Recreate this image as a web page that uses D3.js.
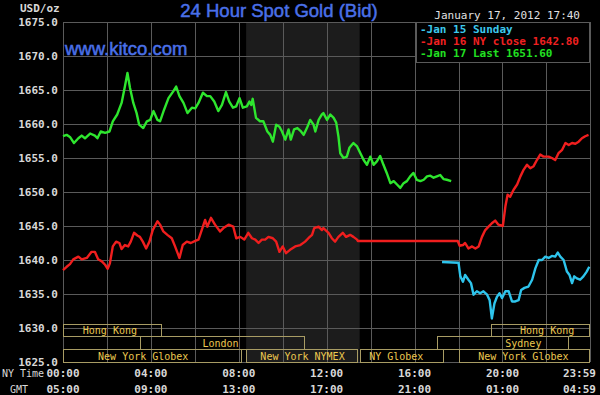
<!DOCTYPE html>
<html><head><meta charset="utf-8">
<script src="https://cdn.jsdelivr.net/npm/d3@7"></script>
<style>html,body{margin:0;padding:0;background:#000;}svg{display:block;}</style>
</head><body>
<svg id="c" width="600" height="395"></svg>
<script>
// ---- data (minutes after midnight NY time, price USD/oz) ----
const greenT = [0,10,19,30,42,51,60,74,87,94,103,115,127,136,148,160,169,176,183,192,201,208,219,229,238,247,258,265,276,288,301,309,318,329,340,352,361,370,382,393,402,413,424,434,445,454,464,473,482,491,502,509,514,518,527,538,547,558,566,573,582,591,598,607,616,622,631,640,650,657,666,675,684,689,698,707,711,721,730,739,746,752,757,766,775,782,793,803,812,821,830,839,848,857,866,875,884,894,903,912,921,930,939,948,957,966,976,985,994,1003,1012,1021,1030,1039,1048,1060];
const greenV = [1658.2,1658.4,1658.1,1657.2,1657.9,1658.3,1657.9,1658.6,1658.3,1657.9,1658.9,1658.7,1658.9,1660.4,1661.4,1663.1,1665.5,1667.5,1665.3,1663.1,1661.6,1659.9,1659.4,1660.4,1660.6,1661.9,1660.6,1660.4,1662.1,1663.8,1664.8,1665.5,1664.1,1663.1,1661.6,1662.4,1662.3,1663.1,1664.6,1664.1,1664.1,1663.3,1661.9,1662.8,1664.7,1663.3,1662.4,1662.6,1663.8,1662.4,1662.6,1663.3,1662.8,1663.7,1660.9,1660.4,1660.4,1658.9,1658.4,1657.4,1659.9,1659.6,1658.9,1657.7,1659.2,1657.7,1659.2,1659.4,1658.9,1658.4,1659.4,1660.6,1659.9,1658.9,1660.6,1661.4,1661.6,1660.6,1661.4,1660.9,1660.2,1658.2,1655.7,1655.0,1655.2,1656.5,1657.2,1656.7,1655.7,1654.7,1654.0,1655.2,1654.0,1654.5,1655.3,1654.0,1652.8,1651.3,1651.6,1651.1,1650.6,1651.3,1651.6,1652.3,1652.8,1651.8,1651.6,1651.8,1652.3,1652.4,1652.1,1652.3,1652.5,1651.9,1651.8,1651.6];

const redT = [0,10,19,28,42,51,65,78,87,96,106,115,122,128,136,145,154,160,169,178,185,194,203,210,218,227,236,245,258,265,274,285,297,306,318,327,338,349,361,370,382,388,394,404,415,429,438,452,465,473,484,495,506,516,525,534,543,552,561,573,582,591,600,609,620,634,648,661,670,680,686,698,707,711,725,734,743,752,764,773,784,793,803,805,1078,1083,1092,1098,1107,1117,1126,1135,1144,1153,1162,1171,1180,1189,1201,1208,1214,1221,1230,1240,1249,1258,1267,1276,1285,1294,1303,1312,1326,1335,1344,1353,1363,1372,1381,1390,1399,1408,1417,1426,1435];
const redV = [1638.5,1639.0,1639.4,1640.1,1640.5,1640.1,1640.3,1641.2,1641.2,1640.1,1639.8,1639.3,1638.7,1639.5,1642.0,1642.7,1642.5,1641.6,1642.2,1642.0,1642.7,1644.0,1643.6,1643.4,1642.7,1641.7,1642.7,1644.4,1645.7,1645.2,1644.2,1643.7,1643.2,1642.0,1640.3,1642.2,1642.7,1642.5,1642.8,1643.0,1644.9,1645.9,1644.9,1646.2,1645.2,1644.2,1644.7,1645.2,1644.9,1643.2,1643.4,1643.0,1644.0,1643.2,1643.0,1642.5,1643.0,1643.0,1643.4,1643.2,1642.7,1641.2,1642.0,1641.0,1641.5,1642.0,1642.2,1642.7,1643.2,1643.7,1644.7,1644.9,1644.4,1644.7,1644.0,1643.2,1642.7,1643.4,1644.0,1643.4,1643.7,1643.4,1643.0,1642.8,1642.8,1642.1,1642.2,1642.5,1641.7,1642.0,1641.7,1642.0,1643.4,1644.4,1644.9,1645.4,1645.8,1645.2,1645.0,1647.9,1649.6,1649.3,1650.3,1651.1,1652.3,1653.3,1654.0,1653.5,1653.8,1654.7,1655.5,1655.2,1655.2,1655.0,1654.7,1655.7,1656.2,1657.2,1656.9,1657.2,1657.1,1657.4,1657.9,1658.2,1658.4];

const cyanT = [1035,1080,1085,1092,1098,1107,1114,1121,1130,1139,1148,1158,1165,1171,1178,1185,1192,1199,1208,1217,1226,1235,1244,1251,1260,1271,1281,1290,1299,1308,1317,1326,1335,1344,1351,1358,1367,1376,1383,1390,1396,1403,1412,1421,1430,1437];
const cyanV = [1639.7,1639.6,1637.6,1636.8,1637.8,1637.1,1636.6,1634.9,1635.4,1635.1,1635.4,1634.9,1634.1,1631.4,1633.6,1634.6,1635.1,1634.4,1635.4,1635.4,1633.9,1633.9,1634.1,1635.6,1635.9,1636.1,1637.1,1638.8,1640.0,1640.0,1640.5,1640.3,1640.6,1640.5,1641.1,1640.5,1640.0,1638.3,1637.8,1636.6,1637.6,1637.3,1637.1,1637.6,1638.3,1639.0];

const yTicks = [1625,1630,1635,1640,1645,1650,1655,1660,1665,1670,1675];
const xTicks = [0,240,480,720,960,1200,1439];
const nyLabels = ["00:00","04:00","08:00","12:00","16:00","20:00","23:59"];
const gmtLabels = ["05:00","09:00","13:00","17:00","21:00","01:00","04:59"];
const gridT = [0,120,240,360,480,600,720,840,960,1080,1200,1320,1439];

const legendLabels = ["-Jan 15 Sunday","-Jan 16 NY close 1642.80","-Jan 17 Last 1651.60"];

// sessions: name, row, start, end, label center (minutes)
const sessName  = ["Hong Kong","Hong Kong","London","Sydney","New York Globex","New York NYMEX","NY Globex","New York Globex"];
const sessRow   = [0,0,1,1,2,2,2,2];
const sessStart = [0,1170,210,1020,0,500,810,1080];
const sessEnd   = [270,1439,660,1380,490,805,1040,1439];
const sessLabel = [128,1322,430,1257,219,654,910,1257];
const nymexShade = [500,810];

// ---- drawing ----
const svg = d3.select("#c");
const L=63,R=590,T=22,B=362;
const x = d3.scaleLinear().domain([0,1439]).range([L,R]);
const y = d3.scaleLinear().domain([1625,1675]).range([B,T]);
const mono = "'DejaVu Sans Mono', monospace";

svg.append("rect").attr("width",600).attr("height",395).attr("fill","#000");
svg.append("rect").attr("x",x(nymexShade[0])).attr("y",T).attr("width",x(nymexShade[1])-x(nymexShade[0])).attr("height",B-T).attr("fill","#1c1c1c");

const g = svg.append("g");
g.selectAll(".hg").data(yTicks).enter().append("line")
 .attr("x1",L).attr("x2",R).attr("y1",d=>y(d)+0.5).attr("y2",d=>y(d)+0.5)
 .attr("stroke","#5a5a5a").attr("stroke-width",1);
g.selectAll(".vg").data(gridT).enter().append("line")
 .attr("x1",d=>Math.round(x(d))+0.5).attr("x2",d=>Math.round(x(d))+0.5).attr("y1",T).attr("y2",B)
 .attr("stroke","#5a5a5a").attr("stroke-width",1);

// y labels
svg.append("g").selectAll("text").data(yTicks).enter().append("text")
 .attr("x",58).attr("y",d=>y(d)+4).attr("text-anchor","end")
 .attr("font-family",mono).attr("font-size",11).attr("font-weight","bold").attr("fill","#d8d8d8")
 .text(d=>d3.format(".1f")(d));
svg.append("text").attr("x",20).attr("y",12).attr("font-family",mono).attr("font-size",11).attr("font-weight","bold").attr("fill","#d8d8d8").text("USD/oz");

// x labels (last one right-aligned to stay inside the picture)
const lastI = xTicks.length-1;
function xLab(labels,yy){
  svg.append("g").selectAll("text").data(xTicks).enter().append("text")
   .attr("x",(d,i)=> i===lastI ? 596 : x(d)).attr("y",yy)
   .attr("text-anchor",(d,i)=> i===lastI ? "end" : "middle")
   .attr("font-family",mono).attr("font-size",11).attr("font-weight","bold").attr("fill","#d8d8d8")
   .text((d,i)=>labels[i]);
}
xLab(nyLabels,377);
xLab(gmtLabels,393);
svg.append("text").attr("x",2).attr("y",377).attr("font-family",mono).attr("font-size",10).attr("fill","#d8d8d8").text("NY Time");
svg.append("text").attr("x",10).attr("y",393).attr("font-family",mono).attr("font-size",10).attr("fill","#d8d8d8").text("GMT");

// sessions
const rowTop=[324,336,349], rowH=[12,13,13];
const sess = svg.append("g");
sessName.forEach((n,i)=>{
  const r=sessRow[i];
  sess.append("rect").attr("x",Math.round(x(sessStart[i]))+0.5).attr("y",rowTop[r]+0.5)
   .attr("width",Math.round(x(sessEnd[i])-x(sessStart[i]))-1).attr("height",rowH[r])
   .attr("fill","none").attr("stroke","#a89c64").attr("stroke-width",1);
  sess.append("text").attr("x",x(sessLabel[i])).attr("y",rowTop[r]+rowH[r]/2+4)
   .attr("text-anchor","middle").attr("font-family",mono).attr("font-size",10)
   .attr("fill","#ecc850").text(n);
});

// series
function draw(ts,vs,color,w){
  const pts = ts.map((t,i)=>[t,vs[i]]);
  svg.append("path").datum(pts)
   .attr("d",d3.line().x(d=>x(d[0])).y(d=>y(d[1])))
   .attr("fill","none").attr("stroke",color).attr("stroke-width",w).attr("stroke-linejoin","round");
}
draw(redT,redV,"#f01e1e",2.4);
draw(cyanT,cyanV,"#2ec4ec",2.4);
draw(greenT,greenV,"#2ee62e",2.4);

// title texts
const sans="'Liberation Sans', Arial, sans-serif";
svg.append("text").attr("x",279).attr("y",17).attr("text-anchor","middle")
 .attr("font-family",sans).attr("font-size",18.5).attr("fill","#4a70e8")
 .attr("stroke","#4a70e8").attr("stroke-width",0.5)
 .text("24 Hour Spot Gold (Bid)");
svg.append("text").attr("x",65).attr("y",55)
 .attr("font-family",sans).attr("font-size",18.5).attr("fill","#4a70e8")
 .attr("stroke","#4a70e8").attr("stroke-width",0.5)
 .text("www.kitco.com");
svg.append("text").attr("x",580).attr("y",19).attr("text-anchor","end")
 .attr("font-family",mono).attr("font-size",11).attr("fill","#e0e0e0")
 .text("January 17, 2012 17:40");

// legend
svg.append("rect").attr("x",416.5).attr("y",22.5).attr("width",173).attr("height",40).attr("fill","#000").attr("stroke","#5a5a5a");
const legColors=["#3cc8ec","#f02020","#22e022"];
legendLabels.forEach((t,i)=>{
  svg.append("text").attr("x",420).attr("y",33+i*12)
   .attr("font-family",mono).attr("font-size",11).attr("font-weight","bold").attr("fill",legColors[i]).text(t);
});
</script>
</body></html>
